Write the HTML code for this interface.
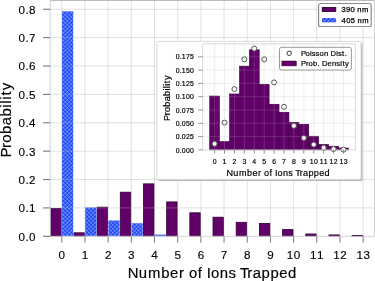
<!DOCTYPE html><html><head><meta charset="utf-8"><style>html,body{margin:0;padding:0;background:#fff;overflow:hidden;}svg{display:block;}text{font-family:"Liberation Sans",sans-serif;}</style></head><body>
<svg width="375" height="281" viewBox="0 0 375 281" style="will-change:transform">
<defs><pattern id="hx" width="2.8" height="2.8" patternUnits="userSpaceOnUse" patternTransform="rotate(45)"><rect width="2.8" height="2.8" fill="#3560ff"/><rect x="0.11200000000000002" y="0.11200000000000002" width="1.176" height="1.176" fill="#b0c0ff"/><rect x="1.4" y="1.4" width="1.4" height="1.4" fill="#1535f0"/></pattern><filter id="sh" x="-5%" y="-5%" width="110%" height="110%"><feGaussianBlur stdDeviation="0.6"/></filter></defs>
<rect width="375" height="281" fill="#fff"/>
<rect x="50.75" y="208.40" width="10.50" height="27.80" fill="#620069" stroke="#2e0033" stroke-width="0.8"/>
<rect x="73.94" y="232.80" width="10.50" height="3.40" fill="#620069" stroke="#2e0033" stroke-width="0.8"/>
<rect x="97.11" y="207.15" width="10.50" height="29.05" fill="#620069" stroke="#2e0033" stroke-width="0.8"/>
<rect x="120.29" y="192.20" width="10.50" height="44.00" fill="#620069" stroke="#2e0033" stroke-width="0.8"/>
<rect x="143.47" y="183.85" width="10.50" height="52.35" fill="#620069" stroke="#2e0033" stroke-width="0.8"/>
<rect x="166.66" y="201.90" width="10.50" height="34.30" fill="#620069" stroke="#2e0033" stroke-width="0.8"/>
<rect x="189.83" y="212.80" width="10.50" height="23.40" fill="#620069" stroke="#2e0033" stroke-width="0.8"/>
<rect x="213.01" y="217.20" width="10.50" height="19.00" fill="#620069" stroke="#2e0033" stroke-width="0.8"/>
<rect x="236.19" y="222.30" width="10.50" height="13.90" fill="#620069" stroke="#2e0033" stroke-width="0.8"/>
<rect x="259.38" y="223.40" width="10.50" height="12.80" fill="#620069" stroke="#2e0033" stroke-width="0.8"/>
<rect x="282.56" y="229.60" width="10.50" height="6.60" fill="#620069" stroke="#2e0033" stroke-width="0.8"/>
<rect x="305.74" y="234.00" width="10.50" height="2.20" fill="#620069" stroke="#2e0033" stroke-width="0.8"/>
<rect x="328.92" y="234.90" width="10.50" height="1.30" fill="#620069" stroke="#2e0033" stroke-width="0.8"/>
<rect x="352.10" y="235.50" width="10.50" height="0.70" fill="#620069" stroke="#2e0033" stroke-width="0.8"/>
<rect x="61.95" y="11.30" width="11.30" height="224.90" fill="url(#hx)"/>
<rect x="85.12" y="207.41" width="11.30" height="28.79" fill="url(#hx)"/>
<rect x="108.30" y="220.49" width="11.30" height="15.71" fill="url(#hx)"/>
<rect x="131.48" y="223.24" width="11.30" height="12.96" fill="url(#hx)"/>
<rect x="154.66" y="234.59" width="11.30" height="1.61" fill="url(#hx)"/>
<line x1="61.8" y1="0.5" x2="61.8" y2="236.3" stroke="rgba(176,176,176,0.38)" stroke-width="1"/>
<line x1="84.98" y1="0.5" x2="84.98" y2="236.3" stroke="rgba(176,176,176,0.38)" stroke-width="1"/>
<line x1="108.16" y1="0.5" x2="108.16" y2="236.3" stroke="rgba(176,176,176,0.38)" stroke-width="1"/>
<line x1="131.34" y1="0.5" x2="131.34" y2="236.3" stroke="rgba(176,176,176,0.38)" stroke-width="1"/>
<line x1="154.52" y1="0.5" x2="154.52" y2="236.3" stroke="rgba(176,176,176,0.38)" stroke-width="1"/>
<line x1="177.7" y1="0.5" x2="177.7" y2="236.3" stroke="rgba(176,176,176,0.38)" stroke-width="1"/>
<line x1="200.88" y1="0.5" x2="200.88" y2="236.3" stroke="rgba(176,176,176,0.38)" stroke-width="1"/>
<line x1="224.06" y1="0.5" x2="224.06" y2="236.3" stroke="rgba(176,176,176,0.38)" stroke-width="1"/>
<line x1="247.24" y1="0.5" x2="247.24" y2="236.3" stroke="rgba(176,176,176,0.38)" stroke-width="1"/>
<line x1="270.42" y1="0.5" x2="270.42" y2="236.3" stroke="rgba(176,176,176,0.38)" stroke-width="1"/>
<line x1="293.6" y1="0.5" x2="293.6" y2="236.3" stroke="rgba(176,176,176,0.38)" stroke-width="1"/>
<line x1="316.78" y1="0.5" x2="316.78" y2="236.3" stroke="rgba(176,176,176,0.38)" stroke-width="1"/>
<line x1="339.96" y1="0.5" x2="339.96" y2="236.3" stroke="rgba(176,176,176,0.38)" stroke-width="1"/>
<line x1="363.14" y1="0.5" x2="363.14" y2="236.3" stroke="rgba(176,176,176,0.38)" stroke-width="1"/>
<line x1="50.2" y1="207.92" x2="374.5" y2="207.92" stroke="rgba(176,176,176,0.38)" stroke-width="1"/>
<line x1="50.2" y1="179.54" x2="374.5" y2="179.54" stroke="rgba(176,176,176,0.38)" stroke-width="1"/>
<line x1="50.2" y1="151.16" x2="374.5" y2="151.16" stroke="rgba(176,176,176,0.38)" stroke-width="1"/>
<line x1="50.2" y1="122.78" x2="374.5" y2="122.78" stroke="rgba(176,176,176,0.38)" stroke-width="1"/>
<line x1="50.2" y1="94.4" x2="374.5" y2="94.4" stroke="rgba(176,176,176,0.38)" stroke-width="1"/>
<line x1="50.2" y1="66.02" x2="374.5" y2="66.02" stroke="rgba(176,176,176,0.38)" stroke-width="1"/>
<line x1="50.2" y1="37.64" x2="374.5" y2="37.64" stroke="rgba(176,176,176,0.38)" stroke-width="1"/>
<line x1="50.2" y1="9.26" x2="374.5" y2="9.26" stroke="rgba(176,176,176,0.38)" stroke-width="1"/>
<path d="M50.2,236.3 V0.5 M374.5,0.5 V236.3 M50.2,236.3 H374.5" fill="none" stroke="#d0d0d0" stroke-width="1"/>
<line x1="50.2" y1="0.5" x2="374.5" y2="0.5" stroke="#bcbcbc" stroke-width="1"/>
<line x1="61.8" y1="236.3" x2="61.8" y2="242.8" stroke="#7a7a7a" stroke-width="1"/>
<line x1="84.98" y1="236.3" x2="84.98" y2="242.8" stroke="#7a7a7a" stroke-width="1"/>
<line x1="108.16" y1="236.3" x2="108.16" y2="242.8" stroke="#7a7a7a" stroke-width="1"/>
<line x1="131.34" y1="236.3" x2="131.34" y2="242.8" stroke="#7a7a7a" stroke-width="1"/>
<line x1="154.52" y1="236.3" x2="154.52" y2="242.8" stroke="#7a7a7a" stroke-width="1"/>
<line x1="177.7" y1="236.3" x2="177.7" y2="242.8" stroke="#7a7a7a" stroke-width="1"/>
<line x1="200.88" y1="236.3" x2="200.88" y2="242.8" stroke="#7a7a7a" stroke-width="1"/>
<line x1="224.06" y1="236.3" x2="224.06" y2="242.8" stroke="#7a7a7a" stroke-width="1"/>
<line x1="247.24" y1="236.3" x2="247.24" y2="242.8" stroke="#7a7a7a" stroke-width="1"/>
<line x1="270.42" y1="236.3" x2="270.42" y2="242.8" stroke="#7a7a7a" stroke-width="1"/>
<line x1="293.6" y1="236.3" x2="293.6" y2="242.8" stroke="#7a7a7a" stroke-width="1"/>
<line x1="316.78" y1="236.3" x2="316.78" y2="242.8" stroke="#7a7a7a" stroke-width="1"/>
<line x1="339.96" y1="236.3" x2="339.96" y2="242.8" stroke="#7a7a7a" stroke-width="1"/>
<line x1="363.14" y1="236.3" x2="363.14" y2="242.8" stroke="#7a7a7a" stroke-width="1"/>
<line x1="43" y1="236.3" x2="50.2" y2="236.3" stroke="#7a7a7a" stroke-width="1.1"/>
<line x1="43" y1="207.92" x2="50.2" y2="207.92" stroke="#7a7a7a" stroke-width="1.1"/>
<line x1="43" y1="179.54" x2="50.2" y2="179.54" stroke="#7a7a7a" stroke-width="1.1"/>
<line x1="43" y1="151.16" x2="50.2" y2="151.16" stroke="#7a7a7a" stroke-width="1.1"/>
<line x1="43" y1="122.78" x2="50.2" y2="122.78" stroke="#7a7a7a" stroke-width="1.1"/>
<line x1="43" y1="94.4" x2="50.2" y2="94.4" stroke="#7a7a7a" stroke-width="1.1"/>
<line x1="43" y1="66.02" x2="50.2" y2="66.02" stroke="#7a7a7a" stroke-width="1.1"/>
<line x1="43" y1="37.64" x2="50.2" y2="37.64" stroke="#7a7a7a" stroke-width="1.1"/>
<line x1="43" y1="9.26" x2="50.2" y2="9.26" stroke="#7a7a7a" stroke-width="1.1"/>
<text x="58.56" y="258.70" font-size="11.66" fill="#000" stroke="#000" stroke-width="0.132" xml:space="preserve">0</text>
<text x="81.74" y="258.70" font-size="11.66" fill="#000" stroke="#000" stroke-width="0.132" xml:space="preserve">1</text>
<text x="104.92" y="258.70" font-size="11.66" fill="#000" stroke="#000" stroke-width="0.132" xml:space="preserve">2</text>
<text x="128.10" y="258.70" font-size="11.66" fill="#000" stroke="#000" stroke-width="0.132" xml:space="preserve">3</text>
<text x="151.28" y="258.70" font-size="11.66" fill="#000" stroke="#000" stroke-width="0.132" xml:space="preserve">4</text>
<text x="174.46" y="258.70" font-size="11.66" fill="#000" stroke="#000" stroke-width="0.132" xml:space="preserve">5</text>
<text x="197.64" y="258.70" font-size="11.66" fill="#000" stroke="#000" stroke-width="0.132" xml:space="preserve">6</text>
<text x="220.82" y="258.70" font-size="11.66" fill="#000" stroke="#000" stroke-width="0.132" xml:space="preserve">7</text>
<text x="244.00" y="258.70" font-size="11.66" fill="#000" stroke="#000" stroke-width="0.132" xml:space="preserve">8</text>
<text x="267.18" y="258.70" font-size="11.66" fill="#000" stroke="#000" stroke-width="0.132" xml:space="preserve">9</text>
<text x="286.86 293.86" y="258.70" font-size="11.66" fill="#000" stroke="#000" stroke-width="0.132" xml:space="preserve">10</text>
<text x="310.04 317.04" y="258.70" font-size="11.66" fill="#000" stroke="#000" stroke-width="0.132" xml:space="preserve">11</text>
<text x="333.22 340.22" y="258.70" font-size="11.66" fill="#000" stroke="#000" stroke-width="0.132" xml:space="preserve">12</text>
<text x="356.40 363.40" y="258.70" font-size="11.66" fill="#000" stroke="#000" stroke-width="0.132" xml:space="preserve">13</text>
<text x="18.51 25.38 29.01" y="240.70" font-size="11.66" fill="#000" stroke="#000" stroke-width="0.132" xml:space="preserve">0.0</text>
<text x="18.51 25.38 29.01" y="212.32" font-size="11.66" fill="#000" stroke="#000" stroke-width="0.132" xml:space="preserve">0.1</text>
<text x="18.51 25.38 29.01" y="183.94" font-size="11.66" fill="#000" stroke="#000" stroke-width="0.132" xml:space="preserve">0.2</text>
<text x="18.51 25.38 29.01" y="155.56" font-size="11.66" fill="#000" stroke="#000" stroke-width="0.132" xml:space="preserve">0.3</text>
<text x="18.51 25.38 29.01" y="127.18" font-size="11.66" fill="#000" stroke="#000" stroke-width="0.132" xml:space="preserve">0.4</text>
<text x="18.51 25.38 29.01" y="98.80" font-size="11.66" fill="#000" stroke="#000" stroke-width="0.132" xml:space="preserve">0.5</text>
<text x="18.51 25.38 29.01" y="70.42" font-size="11.66" fill="#000" stroke="#000" stroke-width="0.132" xml:space="preserve">0.6</text>
<text x="18.51 25.38 29.01" y="42.04" font-size="11.66" fill="#000" stroke="#000" stroke-width="0.132" xml:space="preserve">0.7</text>
<text x="18.51 25.38 29.01" y="13.66" font-size="11.66" fill="#000" stroke="#000" stroke-width="0.132" xml:space="preserve">0.8</text>
<text x="127.77 138.72 147.95 161.32 170.10 178.97 184.50 188.96 197.80 202.51 206.81 211.11 219.86 228.39 235.94 239.98 247.17 252.70 261.46 270.38 279.16 287.94" y="277.70" font-size="14.89" fill="#000" stroke="#000" stroke-width="0.169" xml:space="preserve">Number of Ions Trapped</text>
<g transform="translate(10.8,155.3) rotate(-90)"><text x="-2.14 7.23 12.45 21.20 29.97 38.73 47.63 51.53 55.44 59.73 64.98" y="0.00" font-size="14.89" fill="#000" stroke="#000" stroke-width="0.169" xml:space="preserve">Probability</text></g>
<rect x="318.6" y="3.5" width="52.6" height="23" rx="2" ry="2" fill="#fff" stroke="#8e8e8e" stroke-width="1.2"/>
<rect x="322.3" y="7.6" width="13.4" height="3.8" fill="#620069" stroke="#2e0033" stroke-width="1"/>
<rect x="322" y="18" width="13.9" height="4.4" fill="url(#hx)"/>
<text x="341.43 345.98 350.53 354.99 357.34 362.04" y="12.10" font-size="7.58" fill="#000" stroke="#000" stroke-width="0.250" xml:space="preserve">390 nm</text>
<text x="341.61 346.16 350.71 355.17 357.52 362.22" y="22.80" font-size="7.58" fill="#000" stroke="#000" stroke-width="0.250" xml:space="preserve">405 nm</text>
<rect x="158.4" y="42.9" width="204.1" height="138.1" rx="1" fill="#b8b8b8" filter="url(#sh)"/>
<rect x="156.9" y="41.4" width="204.1" height="138.1" rx="1" fill="#fff" stroke="#d2d2d2" stroke-width="0.8"/>
<rect x="209.64" y="96.01" width="9.916" height="53.89" fill="#620069" stroke="#2e0033" stroke-width="0.5"/>
<rect x="219.56" y="141.49" width="9.916" height="8.41" fill="#620069" stroke="#2e0033" stroke-width="0.5"/>
<rect x="229.47" y="93.93" width="9.916" height="55.97" fill="#620069" stroke="#2e0033" stroke-width="0.5"/>
<rect x="239.39" y="66.11" width="9.916" height="83.79" fill="#620069" stroke="#2e0033" stroke-width="0.5"/>
<rect x="249.31" y="49.78" width="9.916" height="100.12" fill="#620069" stroke="#2e0033" stroke-width="0.5"/>
<rect x="259.22" y="84.30" width="9.916" height="65.60" fill="#620069" stroke="#2e0033" stroke-width="0.5"/>
<rect x="269.14" y="104.20" width="9.916" height="45.70" fill="#620069" stroke="#2e0033" stroke-width="0.5"/>
<rect x="279.05" y="112.18" width="9.916" height="37.72" fill="#620069" stroke="#2e0033" stroke-width="0.5"/>
<rect x="288.97" y="122.29" width="9.916" height="27.61" fill="#620069" stroke="#2e0033" stroke-width="0.5"/>
<rect x="298.89" y="124.20" width="9.916" height="25.70" fill="#620069" stroke="#2e0033" stroke-width="0.5"/>
<rect x="308.80" y="136.17" width="9.916" height="13.73" fill="#620069" stroke="#2e0033" stroke-width="0.5"/>
<rect x="318.72" y="144.31" width="9.916" height="5.59" fill="#620069" stroke="#2e0033" stroke-width="0.5"/>
<rect x="328.63" y="146.18" width="9.916" height="3.72" fill="#620069" stroke="#2e0033" stroke-width="0.5"/>
<rect x="338.55" y="147.98" width="9.916" height="1.92" fill="#620069" stroke="#2e0033" stroke-width="0.5"/>
<circle cx="214.60" cy="143.81" r="2.5" fill="#fff" stroke="#555555" stroke-width="1"/>
<circle cx="224.52" cy="122.68" r="2.5" fill="#fff" stroke="#555555" stroke-width="1"/>
<circle cx="234.43" cy="89.06" r="2.5" fill="#fff" stroke="#555555" stroke-width="1"/>
<circle cx="244.35" cy="59.25" r="2.5" fill="#fff" stroke="#555555" stroke-width="1"/>
<circle cx="254.26" cy="48.59" r="2.5" fill="#fff" stroke="#555555" stroke-width="1"/>
<circle cx="264.18" cy="59.33" r="2.5" fill="#fff" stroke="#555555" stroke-width="1"/>
<circle cx="274.10" cy="82.43" r="2.5" fill="#fff" stroke="#555555" stroke-width="1"/>
<circle cx="284.01" cy="106.81" r="2.5" fill="#fff" stroke="#555555" stroke-width="1"/>
<circle cx="293.93" cy="125.83" r="2.5" fill="#fff" stroke="#555555" stroke-width="1"/>
<circle cx="303.84" cy="137.94" r="2.5" fill="#fff" stroke="#555555" stroke-width="1"/>
<circle cx="313.76" cy="144.56" r="2.5" fill="#fff" stroke="#555555" stroke-width="1"/>
<circle cx="323.68" cy="147.73" r="2.5" fill="#fff" stroke="#555555" stroke-width="1"/>
<circle cx="333.59" cy="149.09" r="2.5" fill="#fff" stroke="#555555" stroke-width="1"/>
<circle cx="343.51" cy="149.62" r="2.5" fill="#fff" stroke="#555555" stroke-width="1"/>
<line x1="214.60" y1="43.9" x2="214.60" y2="149.9" stroke="rgba(176,176,176,0.28)" stroke-width="0.8"/>
<line x1="224.52" y1="43.9" x2="224.52" y2="149.9" stroke="rgba(176,176,176,0.28)" stroke-width="0.8"/>
<line x1="234.43" y1="43.9" x2="234.43" y2="149.9" stroke="rgba(176,176,176,0.28)" stroke-width="0.8"/>
<line x1="244.35" y1="43.9" x2="244.35" y2="149.9" stroke="rgba(176,176,176,0.28)" stroke-width="0.8"/>
<line x1="254.26" y1="43.9" x2="254.26" y2="149.9" stroke="rgba(176,176,176,0.28)" stroke-width="0.8"/>
<line x1="264.18" y1="43.9" x2="264.18" y2="149.9" stroke="rgba(176,176,176,0.28)" stroke-width="0.8"/>
<line x1="274.10" y1="43.9" x2="274.10" y2="149.9" stroke="rgba(176,176,176,0.28)" stroke-width="0.8"/>
<line x1="284.01" y1="43.9" x2="284.01" y2="149.9" stroke="rgba(176,176,176,0.28)" stroke-width="0.8"/>
<line x1="293.93" y1="43.9" x2="293.93" y2="149.9" stroke="rgba(176,176,176,0.28)" stroke-width="0.8"/>
<line x1="303.84" y1="43.9" x2="303.84" y2="149.9" stroke="rgba(176,176,176,0.28)" stroke-width="0.8"/>
<line x1="313.76" y1="43.9" x2="313.76" y2="149.9" stroke="rgba(176,176,176,0.28)" stroke-width="0.8"/>
<line x1="323.68" y1="43.9" x2="323.68" y2="149.9" stroke="rgba(176,176,176,0.28)" stroke-width="0.8"/>
<line x1="333.59" y1="43.9" x2="333.59" y2="149.9" stroke="rgba(176,176,176,0.28)" stroke-width="0.8"/>
<line x1="343.51" y1="43.9" x2="343.51" y2="149.9" stroke="rgba(176,176,176,0.28)" stroke-width="0.8"/>
<line x1="202.7" y1="136.60" x2="355.3" y2="136.60" stroke="rgba(176,176,176,0.28)" stroke-width="0.8"/>
<line x1="202.7" y1="123.30" x2="355.3" y2="123.30" stroke="rgba(176,176,176,0.28)" stroke-width="0.8"/>
<line x1="202.7" y1="110.00" x2="355.3" y2="110.00" stroke="rgba(176,176,176,0.28)" stroke-width="0.8"/>
<line x1="202.7" y1="96.70" x2="355.3" y2="96.70" stroke="rgba(176,176,176,0.28)" stroke-width="0.8"/>
<line x1="202.7" y1="83.40" x2="355.3" y2="83.40" stroke="rgba(176,176,176,0.28)" stroke-width="0.8"/>
<line x1="202.7" y1="70.10" x2="355.3" y2="70.10" stroke="rgba(176,176,176,0.28)" stroke-width="0.8"/>
<line x1="202.7" y1="56.80" x2="355.3" y2="56.80" stroke="rgba(176,176,176,0.28)" stroke-width="0.8"/>
<rect x="202.7" y="43.9" width="152.60" height="106.00" fill="none" stroke="#d0d0d0" stroke-width="0.8"/>
<line x1="214.60" y1="149.9" x2="214.60" y2="153.70" stroke="#7a7a7a" stroke-width="0.8"/>
<line x1="224.52" y1="149.9" x2="224.52" y2="153.70" stroke="#7a7a7a" stroke-width="0.8"/>
<line x1="234.43" y1="149.9" x2="234.43" y2="153.70" stroke="#7a7a7a" stroke-width="0.8"/>
<line x1="244.35" y1="149.9" x2="244.35" y2="153.70" stroke="#7a7a7a" stroke-width="0.8"/>
<line x1="254.26" y1="149.9" x2="254.26" y2="153.70" stroke="#7a7a7a" stroke-width="0.8"/>
<line x1="264.18" y1="149.9" x2="264.18" y2="153.70" stroke="#7a7a7a" stroke-width="0.8"/>
<line x1="274.10" y1="149.9" x2="274.10" y2="153.70" stroke="#7a7a7a" stroke-width="0.8"/>
<line x1="284.01" y1="149.9" x2="284.01" y2="153.70" stroke="#7a7a7a" stroke-width="0.8"/>
<line x1="293.93" y1="149.9" x2="293.93" y2="153.70" stroke="#7a7a7a" stroke-width="0.8"/>
<line x1="303.84" y1="149.9" x2="303.84" y2="153.70" stroke="#7a7a7a" stroke-width="0.8"/>
<line x1="313.76" y1="149.9" x2="313.76" y2="153.70" stroke="#7a7a7a" stroke-width="0.8"/>
<line x1="323.68" y1="149.9" x2="323.68" y2="153.70" stroke="#7a7a7a" stroke-width="0.8"/>
<line x1="333.59" y1="149.9" x2="333.59" y2="153.70" stroke="#7a7a7a" stroke-width="0.8"/>
<line x1="343.51" y1="149.9" x2="343.51" y2="153.70" stroke="#7a7a7a" stroke-width="0.8"/>
<line x1="198.30" y1="149.90" x2="202.7" y2="149.90" stroke="#7a7a7a" stroke-width="0.8"/>
<line x1="198.30" y1="136.60" x2="202.7" y2="136.60" stroke="#7a7a7a" stroke-width="0.8"/>
<line x1="198.30" y1="123.30" x2="202.7" y2="123.30" stroke="#7a7a7a" stroke-width="0.8"/>
<line x1="198.30" y1="110.00" x2="202.7" y2="110.00" stroke="#7a7a7a" stroke-width="0.8"/>
<line x1="198.30" y1="96.70" x2="202.7" y2="96.70" stroke="#7a7a7a" stroke-width="0.8"/>
<line x1="198.30" y1="83.40" x2="202.7" y2="83.40" stroke="#7a7a7a" stroke-width="0.8"/>
<line x1="198.30" y1="70.10" x2="202.7" y2="70.10" stroke="#7a7a7a" stroke-width="0.8"/>
<line x1="198.30" y1="56.80" x2="202.7" y2="56.80" stroke="#7a7a7a" stroke-width="0.8"/>
<text x="212.68" y="163.60" font-size="6.89" fill="#000" stroke="#000" stroke-width="0.180" xml:space="preserve">0</text>
<text x="222.60" y="163.60" font-size="6.89" fill="#000" stroke="#000" stroke-width="0.180" xml:space="preserve">1</text>
<text x="232.52" y="163.60" font-size="6.89" fill="#000" stroke="#000" stroke-width="0.180" xml:space="preserve">2</text>
<text x="242.43" y="163.60" font-size="6.89" fill="#000" stroke="#000" stroke-width="0.180" xml:space="preserve">3</text>
<text x="252.35" y="163.60" font-size="6.89" fill="#000" stroke="#000" stroke-width="0.180" xml:space="preserve">4</text>
<text x="262.26" y="163.60" font-size="6.89" fill="#000" stroke="#000" stroke-width="0.180" xml:space="preserve">5</text>
<text x="272.18" y="163.60" font-size="6.89" fill="#000" stroke="#000" stroke-width="0.180" xml:space="preserve">6</text>
<text x="282.10" y="163.60" font-size="6.89" fill="#000" stroke="#000" stroke-width="0.180" xml:space="preserve">7</text>
<text x="292.01" y="163.60" font-size="6.89" fill="#000" stroke="#000" stroke-width="0.180" xml:space="preserve">8</text>
<text x="301.93" y="163.60" font-size="6.89" fill="#000" stroke="#000" stroke-width="0.180" xml:space="preserve">9</text>
<text x="309.78 313.91" y="163.60" font-size="6.89" fill="#000" stroke="#000" stroke-width="0.180" xml:space="preserve">10</text>
<text x="319.69 323.83" y="163.60" font-size="6.89" fill="#000" stroke="#000" stroke-width="0.180" xml:space="preserve">11</text>
<text x="329.61 333.74" y="163.60" font-size="6.89" fill="#000" stroke="#000" stroke-width="0.180" xml:space="preserve">12</text>
<text x="339.52 343.66" y="163.60" font-size="6.89" fill="#000" stroke="#000" stroke-width="0.180" xml:space="preserve">13</text>
<text x="175.64 179.70 181.85 185.98 190.12" y="152.50" font-size="6.89" fill="#000" stroke="#000" stroke-width="0.180" xml:space="preserve">0.000</text>
<text x="175.64 179.70 181.85 185.98 190.12" y="139.20" font-size="6.89" fill="#000" stroke="#000" stroke-width="0.180" xml:space="preserve">0.025</text>
<text x="175.64 179.70 181.85 185.98 190.12" y="125.90" font-size="6.89" fill="#000" stroke="#000" stroke-width="0.180" xml:space="preserve">0.050</text>
<text x="175.64 179.70 181.85 185.98 190.12" y="112.60" font-size="6.89" fill="#000" stroke="#000" stroke-width="0.180" xml:space="preserve">0.075</text>
<text x="175.64 179.70 181.85 185.98 190.12" y="99.30" font-size="6.89" fill="#000" stroke="#000" stroke-width="0.180" xml:space="preserve">0.100</text>
<text x="175.64 179.70 181.85 185.98 190.12" y="86.00" font-size="6.89" fill="#000" stroke="#000" stroke-width="0.180" xml:space="preserve">0.125</text>
<text x="175.64 179.70 181.85 185.98 190.12" y="72.70" font-size="6.89" fill="#000" stroke="#000" stroke-width="0.180" xml:space="preserve">0.150</text>
<text x="175.64 179.70 181.85 185.98 190.12" y="59.40" font-size="6.89" fill="#000" stroke="#000" stroke-width="0.180" xml:space="preserve">0.175</text>
<text x="226.57 233.26 238.92 247.10 252.47 257.90 261.29 264.02 269.43 272.31 274.94 277.58 282.93 288.15 292.77 295.25 299.65 303.03 308.40 313.86 319.23 324.61" y="175.60" font-size="9.12" fill="#000" stroke="#000" stroke-width="0.180" xml:space="preserve">Number of Ions Trapped</text>
<g transform="translate(170.4,119.7) rotate(-90)"><text x="-1.31 4.42 7.62 12.98 18.34 23.71 29.15 31.54 33.93 36.56 39.78" y="0.00" font-size="9.12" fill="#000" stroke="#000" stroke-width="0.180" xml:space="preserve">Probability</text></g>
<rect x="279.5" y="47.3" width="71.9" height="22.7" rx="2" ry="2" fill="#fff" stroke="#8e8e8e" stroke-width="0.9"/>
<circle cx="289.2" cy="53.3" r="2.2" fill="#fff" stroke="#3a3a3a" stroke-width="1"/>
<rect x="281.9" y="61" width="14.4" height="4.9" fill="#620069" stroke="#2e0033" stroke-width="0.5"/>
<text x="301.11 305.62 310.07 311.87 315.60 319.43 323.89 328.34 330.55 336.19 337.99 342.10 344.64" y="55.70" font-size="7.58" fill="#000" stroke="#000" stroke-width="0.200" xml:space="preserve">Poisson Dist.</text>
<text x="301.11 305.88 308.53 312.99 317.45 319.72 321.93 327.51 331.98 336.32 340.23 342.41 345.08" y="65.60" font-size="7.58" fill="#000" stroke="#000" stroke-width="0.200" xml:space="preserve">Prob. Density</text>
</svg></body></html>
